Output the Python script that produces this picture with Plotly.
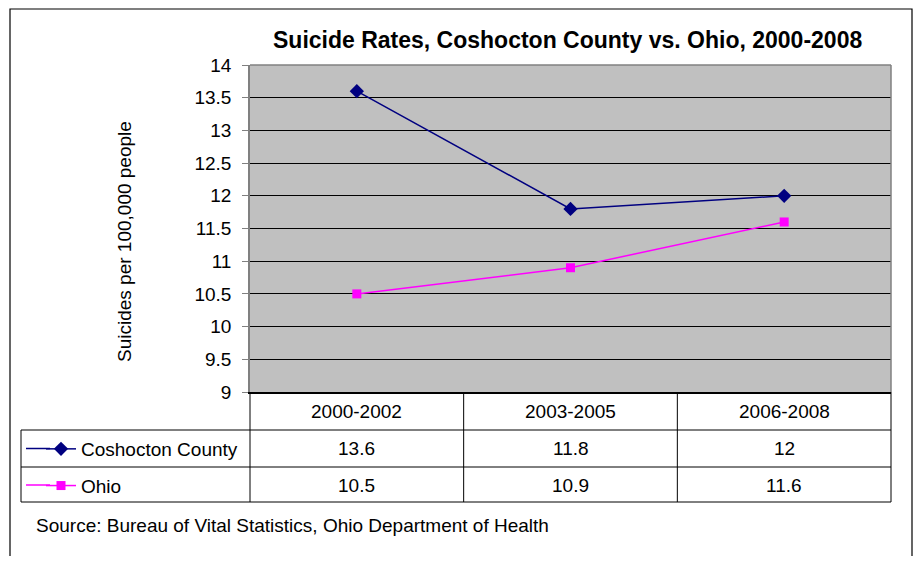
import plotly.graph_objects as go

categories = ["2000-2002", "2003-2005", "2006-2008"]
coshocton = [13.6, 11.8, 12]
ohio = [10.5, 10.9, 11.6]
series_names = ["Coshocton County", "Ohio"]
series_colors = ["#000080", "#FF00FF"]
title_text = "Suicide Rates, Coshocton County vs. Ohio, 2000-2008"
y_title = "Suicides per 100,000 people"
source_text = "Source: Bureau of Vital Statistics, Ohio Department of Health"

OFF = 8  # page body margin
W, H = 921 - 2 * OFF, 564 - 2 * OFF
# plot area in page pixels: x 250..891, y 65..392
L = 250 - OFF
T = 65 - OFF
PW = 891 - 250
PH = 392 - 65
R = W - L - PW
B = H - T - PH
FONT = "Liberation Sans, Arial, sans-serif"


def px(x):  # page x -> paper
    return (x - OFF - L) / PW


def py(y):  # page y -> paper
    return (T + PH - (y - OFF)) / PH


fig = go.Figure()
fig.add_trace(go.Scatter(
    x=categories, y=coshocton, name=series_names[0], mode="lines+markers",
    line=dict(color=series_colors[0], width=1.5),
    marker=dict(symbol="diamond", size=11, color=series_colors[0]),
    legendgroup="a"))
fig.add_trace(go.Scatter(
    x=categories, y=ohio, name=series_names[1], mode="lines+markers",
    line=dict(color=series_colors[1], width=1.5),
    marker=dict(symbol="square", size=9, color=series_colors[1]),
    legendgroup="b"))

shapes = []
black = dict(color="black", width=1)
gray = dict(color="#808080", width=1.5)
# chart outer border
shapes.append(dict(type="rect", xref="paper", yref="paper",
                   x0=px(10), x1=px(912), y0=py(620), y1=py(9),
                   line=dict(color="black", width=1.2), layer="below"))
# plot area border (top/right gray)
shapes.append(dict(type="line", xref="paper", yref="paper", x0=0, x1=1, y0=1, y1=1, line=gray))
shapes.append(dict(type="line", xref="paper", yref="paper", x0=1, x1=1, y0=0, y1=1, line=gray))
# table horizontal lines
for yy, x0 in [(430, 21), (467, 21), (502, 21)]:
    shapes.append(dict(type="line", xref="paper", yref="paper",
                       x0=px(x0), x1=1, y0=py(yy), y1=py(yy), line=black))
# table vertical lines
shapes.append(dict(type="line", xref="paper", yref="paper", x0=px(21), x1=px(21),
                   y0=py(430), y1=py(502), line=black))
shapes.append(dict(type="line", xref="paper", yref="paper", x0=0, x1=0,
                   y0=py(392), y1=py(502), line=black))
shapes.append(dict(type="line", xref="paper", yref="paper", x0=1, x1=1,
                   y0=py(392), y1=py(502), line=black))
for i in range(len(categories) - 1):
    shapes.append(dict(type="line", xref="x", yref="paper", x0=i + 0.5, x1=i + 0.5,
                       y0=py(392), y1=py(502), line=black))
# legend key line extensions (to the left of plotly's legend symbol)
for row_y, col in [(448.5, series_colors[0]), (485, series_colors[1])]:
    shapes.append(dict(type="line", xref="paper", yref="paper", x0=px(26), x1=px(50),
                       y0=py(row_y), y1=py(row_y), line=dict(color=col, width=1.5)))

annotations = []
tf = dict(family=FONT, size=19, color="black")
for i, c in enumerate(categories):
    annotations.append(dict(x=i, y=py(411), xref="x", yref="paper", text=c,
                            showarrow=False, font=tf, xanchor="center", yanchor="middle"))
for row_y, vals in [(448.5, coshocton), (485, ohio)]:
    for i, v in enumerate(vals):
        annotations.append(dict(x=i, y=py(row_y), xref="x", yref="paper", text=str(v),
                                showarrow=False, font=tf, xanchor="center", yanchor="middle"))
annotations.append(dict(x=px(34), y=py(525), xref="paper", yref="paper", text=source_text,
                        showarrow=False, font=dict(family=FONT, size=19, color="black"),
                        xanchor="left", yanchor="middle"))
annotations.append(dict(x=px(567), y=py(40), xref="paper", yref="paper",
                        text="<b>" + title_text + "</b>", showarrow=False,
                        font=dict(family=FONT, size=23, color="black"),
                        xanchor="center", yanchor="middle"))
annotations.append(dict(x=px(124), y=py(242), xref="paper", yref="paper", text=y_title,
                        showarrow=False, textangle=-90,
                        font=dict(family=FONT, size=19, color="black"),
                        xanchor="center", yanchor="middle"))

fig.update_layout(
    width=W, height=H,
    margin=dict(l=L, r=R, t=T, b=B, pad=0),
    paper_bgcolor="white", plot_bgcolor="#C0C0C0",
    font=dict(family=FONT, size=19, color="black"),
    showlegend=True,
    legend=dict(x=px(41), y=py(430), xanchor="left", yanchor="top",
                bgcolor="rgba(0,0,0,0)", font=dict(family=FONT, size=19),
                tracegroupgap=9, traceorder="grouped", itemwidth=30),
    shapes=shapes, annotations=annotations,
    xaxis=dict(type="category", range=[-0.5, 2.5], showticklabels=False,
               showgrid=False, zeroline=False, showline=True, linecolor="black",
               linewidth=1.5, ticks=""),
    yaxis=dict(range=[9, 14], dtick=0.5, tick0=9, showgrid=True, gridcolor="black",
               gridwidth=1, zeroline=False, showline=True, linecolor="#808080",
               linewidth=1.5, ticks="outside", ticklen=6, tickcolor="#808080",
               tickfont=dict(family=FONT, size=19), ticklabelstandoff=7),
)

fig.write_html("out.html")
